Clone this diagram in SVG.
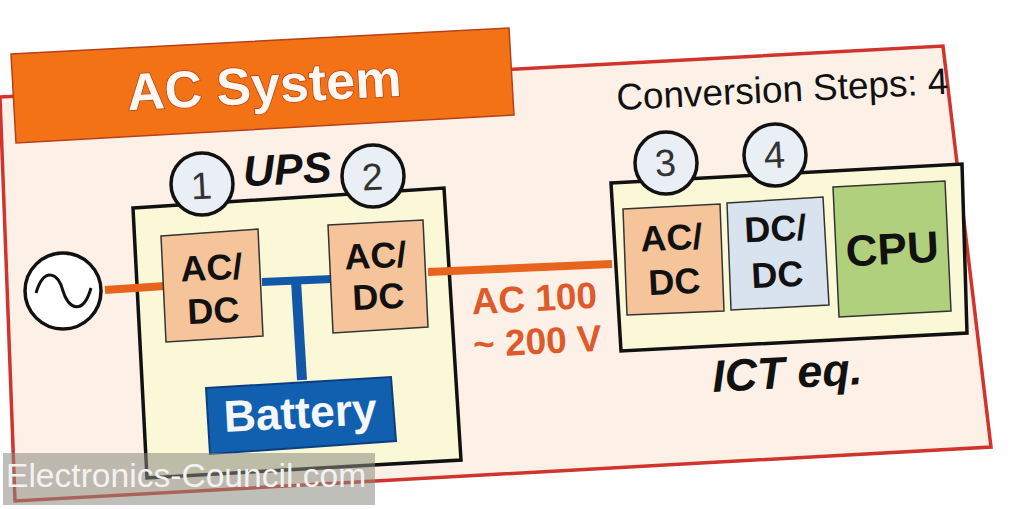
<svg xmlns="http://www.w3.org/2000/svg" width="1024" height="509" viewBox="0 0 1024 509">
<style>
.s{font-family:"Liberation Sans",Arial,sans-serif}
.b{font-weight:bold;text-anchor:middle}
.k{fill:#111;font-size:36px}
.n{fill:#e9eff4;stroke:#111;stroke-width:3.5}
.t{fill:#333;font-size:38px;text-anchor:middle}
.box{stroke:#333;stroke-width:1.5}
.frame{stroke:#111;stroke-width:3.5;fill:#fbf8d8}
</style>
<rect width="1024" height="509" fill="#fff"/>
<polygon id="outer" points="0,97 943,46 991,447 15,501" fill="#fdf0e6" stroke="#d0342c" stroke-width="3.5"/>
<g id="banner"><polygon points="11,54 509,28 514,115 16,143" fill="#f47216" stroke="#b5401a" stroke-width="1.5"/>
<text class="s b" transform="translate(265 103) rotate(-3)" font-size="52" fill="#fff8f0" stroke="#b5401a" stroke-width="1.5" paint-order="stroke">AC System</text></g>
<text class="s" transform="translate(617 110) rotate(-2.8)" font-size="36.9" fill="#111">Conversion Steps: 4</text>
<polygon id="ups" class="frame" points="133,208 444,188 461,460 147,478"/>
<polygon id="ict" class="frame" points="611,183 962,164 967,333 621,351"/>
<g id="connectors" fill="none">
<path d="M105,290 L165,286" stroke="#e8641c" stroke-width="8"/>
<path d="M428,272 L612,264" stroke="#e8641c" stroke-width="8"/>
<path d="M262,282 L332,279" stroke="#1358a8" stroke-width="8"/>
<path d="M296,281 L302,380" stroke="#1358a8" stroke-width="10"/>
</g>
<g id="source"><circle cx="63" cy="291" r="38" fill="#fff" stroke="#111" stroke-width="3.5"/>
<path d="M36,293 C44,266 59,273 63,291 C68,309 83,316 91,288" fill="none" stroke="#111" stroke-width="3"/></g>
<g id="n-acdc1"><polygon class="box" points="161,236 258,229 263,336 166,342" fill="#f6c49a"/>
<text class="s b k" transform="translate(212 280) rotate(-3)">AC/</text><text class="s b k" transform="translate(214 323) rotate(-3)">DC</text></g>
<g id="n-acdc2"><polygon class="box" points="328,225 423,220 428,327 333,333" fill="#f6c49a"/>
<text class="s b k" transform="translate(376 268) rotate(-3)">AC/</text><text class="s b k" transform="translate(379 309) rotate(-3)">DC</text></g>
<g id="battery"><polygon points="206,388 391,377 396,441 210,454" fill="#1160b0" stroke="#0c3f80" stroke-width="2"/>
<text class="s b" transform="translate(301 428) rotate(-3)" font-size="44.5" fill="#f4f6fa">Battery</text></g>
<g id="n-1"><circle class="n" cx="202" cy="184" r="31"/><text class="s t" transform="translate(202 199) rotate(-3)">1</text></g>
<g id="n-2"><circle class="n" cx="373" cy="176" r="31"/><text class="s t" transform="translate(373 190) rotate(-3)">2</text></g>
<text class="s b" transform="translate(288 184) rotate(-3)" font-size="43" font-style="italic" fill="#111">UPS</text>
<g id="n-3"><circle class="n" cx="666" cy="163" r="31"/><text class="s t" transform="translate(666 176) rotate(-3)">3</text></g>
<g id="n-4"><circle class="n" cx="775" cy="155" r="31"/><text class="s t" transform="translate(775 168) rotate(-3)">4</text></g>
<g id="n-acdc3"><polygon class="box" points="623,209 720,204 724,311 627,315" fill="#f6c49a"/>
<text class="s b k" transform="translate(672 250) rotate(-3)">AC/</text><text class="s b k" transform="translate(675 294) rotate(-3)">DC</text></g>
<g id="n-dcdc"><polygon class="box" points="727,203 823,197 829,305 731,310" fill="#d9e2ef"/>
<text class="s b k" transform="translate(776 241) rotate(-3)">DC/</text><text class="s b k" transform="translate(778 287) rotate(-3)">DC</text></g>
<g id="cpu"><polygon class="box" points="833,187 945,181 951,311 839,317" fill="#b0d07e"/>
<text class="s b" transform="translate(893 264) rotate(-3)" font-size="44" fill="#111">CPU</text></g>
<text class="s b" transform="translate(535 311) rotate(-3)" font-size="37" fill="#df5a2a">AC 100</text>
<text class="s b" transform="translate(538 354) rotate(-3)" font-size="37" fill="#df5a2a">~ 200 V</text>
<text class="s b" transform="translate(788 388) rotate(-3)" font-size="45" font-style="italic" fill="#111">ICT eq.</text>
<g id="watermark"><rect x="3" y="453" width="372" height="52" fill="#8a8a80" opacity=".55"/>
<text class="s" x="6" y="487" font-size="33.6" fill="#f2f2f2">Electronics-Council.com</text></g>
</svg>
